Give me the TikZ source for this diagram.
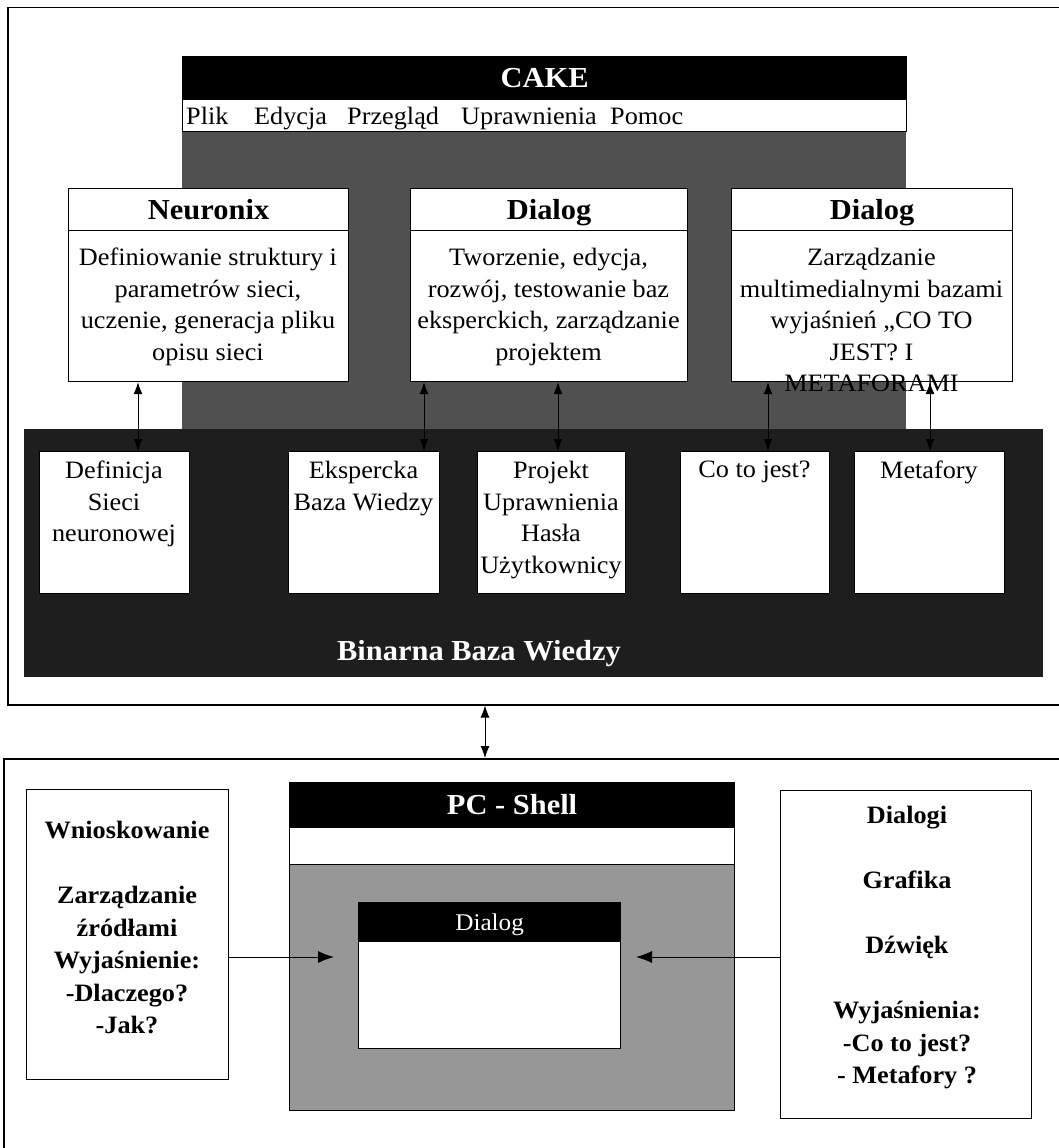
\documentclass[tikz,border=0pt]{standalone}
\usepackage{fontspec}
\setmainfont{Liberation Serif}[FakeStretch=1.05]
\usetikzlibrary{arrows.meta}
\definecolor{cakegrey}{HTML}{505050}
\definecolor{bandgrey}{HTML}{1E1E1E}
\definecolor{shellgrey}{HTML}{979797}
\begin{document}
\begin{tikzpicture}[x=1pt, y=-1pt]
    \tikzstyle{frame} = [draw, line width=1.5pt, inner sep=0pt, anchor=north west]
    \tikzstyle{box} = [draw, line width=1.2pt, fill=white, inner sep=0pt, anchor=north west]
    \tikzstyle{big} = [font=\bfseries\fontsize{29}{33}\selectfont, text height=22pt, text depth=3pt]
    \tikzstyle{bar} = [draw, line width=1.2pt, fill=black, text=white, inner sep=0pt, anchor=north west]
    \tikzstyle{title} = [box, big]
    \tikzstyle{txt} = [inner sep=0pt, align=center, anchor=north, font=\fontsize{25}{31.5}\selectfont]
    \tikzstyle{boldtxt} = [inner sep=0pt, align=center, anchor=north, font=\bfseries\fontsize{25}{32.5}\selectfont]
    \tikzstyle{link} = [line width=0.9pt, {Latex[length=12pt,width=9pt]}-{Latex[length=12pt,width=9pt]}]
    \tikzstyle{feed} = [line width=1pt, -{Latex[length=16pt,width=12pt]}]
    \useasboundingbox (0,0) rectangle (1059,1148);
    \fill[white] (0,0) rectangle (1059,1148);
    % CAKE
    \node[frame, minimum width=1063pt, minimum height=697pt] (upper) at (7,7) {};
    \node[fill=cakegrey, inner sep=0pt, anchor=north west, minimum width=724pt, minimum height=300pt] (cakebody) at (182,131) {};
    \node[bar, big, minimum width=724pt, minimum height=43pt] (cake) at (182,56) {CAKE};
    \node[box, minimum width=724pt, minimum height=32pt] (menu) at (182,99) {};
    \node[inner sep=0pt, anchor=base west, font=\fontsize{25}{28}\selectfont] (menutxt) at (186,124)
        {\makebox[68pt][l]{Plik}\makebox[93pt][l]{Edycja}\makebox[114pt][l]{Przegląd}\makebox[149pt][l]{Uprawnienia}Pomoc};
    \node[fill=bandgrey, inner sep=0pt, anchor=north west, minimum width=1019pt, minimum height=248pt] (binarna) at (24,429) {};
    \node[inner sep=0pt, anchor=base, text=white, font=\bfseries\fontsize{29}{33}\selectfont] (bbw) at (479,660) {Binarna Baza Wiedzy};
    % modules
    \node[title, minimum width=280pt, minimum height=42pt] (neuronix) at (68,188) {Neuronix};
    \node[box, minimum width=280pt, minimum height=151pt] (neuronixbody) at (68,230) {};
    \node[txt] at (208,248) {Definiowanie struktury i\\parametrów sieci,\\uczenie, generacja pliku\\opisu sieci};
    \node[title, minimum width=277pt, minimum height=42pt] (dialog) at (410,188) {Dialog};
    \node[box, minimum width=277pt, minimum height=151pt] (dialogbody) at (410,230) {};
    \node[txt] at (548.5,248) {Tworzenie, edycja,\\rozwój, testowanie baz\\eksperckich, zarządzanie\\projektem};
    \node[title, minimum width=281pt, minimum height=42pt] (media) at (731,188) {Dialog};
    \node[box, minimum width=281pt, minimum height=151pt] (mediabody) at (731,230) {};
    \node[txt] at (871.5,248) {Zarządzanie\\multimedialnymi bazami\\wyjaśnień „CO TO\\JEST? I\\METAFORAMI};
    % knowledge parts
    \node[box, minimum width=150pt, minimum height=142pt] (definicja) at (39,451) {};
    \node[txt] at (114,461) {Definicja\\Sieci\\neuronowej};
    \node[box, minimum width=151pt, minimum height=142pt] (ekspercka) at (288,451) {};
    \node[txt] at (363.5,461) {Ekspercka\\Baza Wiedzy};
    \node[box, minimum width=148pt, minimum height=142pt] (projekt) at (477,451) {};
    \node[txt] at (551,461) {Projekt\\Uprawnienia\\Hasła\\Użytkownicy};
    \node[box, minimum width=149pt, minimum height=142pt] (cotojest) at (680,451) {};
    \node[txt] at (754.5,461) {Co to jest?};
    \node[box, minimum width=150pt, minimum height=142pt] (metafory) at (854,451) {};
    \node[txt] at (929,461) {Metafory};
    \coordinate (l1) at (138,0);
    \coordinate (l2) at (424,0);
    \coordinate (l3) at (558,0);
    \coordinate (l4) at (768,0);
    \coordinate (l5) at (930,0);
    \draw[link] (neuronixbody.south -| l1) -- (definicja.north -| l1);
    \draw[link] (dialogbody.south -| l2) -- (ekspercka.north -| l2);
    \draw[link] (dialogbody.south -| l3) -- (projekt.north -| l3);
    \draw[link] (mediabody.south -| l4) -- (cotojest.north -| l4);
    \draw[link] (mediabody.south -| l5) -- (metafory.north -| l5);
    % PC - Shell
    \node[frame, minimum width=1070pt, minimum height=400pt] (lower) at (3,758) {};
    \coordinate (mid) at (485,0);
    \draw[link] (upper.south -| mid) -- (lower.north -| mid);
    \node[fill=shellgrey, draw, line width=1.2pt, inner sep=0pt, anchor=north west, minimum width=445pt, minimum height=246pt] (shellbody) at (289,864) {};
    \node[bar, big, minimum width=445pt, minimum height=45pt] (shell) at (289,782) {PC - Shell};
    \node[box, minimum width=445pt, minimum height=37pt] (shellmenu) at (289,827) {};
    \node[bar, minimum width=262pt, minimum height=39pt, font=\fontsize{24}{28}\selectfont, text height=19pt, text depth=3pt] (win) at (358,902) {Dialog};
    \node[box, minimum width=262pt, minimum height=107pt] (winbody) at (358,941) {};
    \node[box, minimum width=202pt, minimum height=290pt] (engine) at (26,789) {};
    \node[boldtxt] at (127,821) {Wnioskowanie\\[32.5pt]Zarządzanie\\źródłami\\Wyjaśnienie:\\-Dlaczego?\\-Jak?};
    \node[box, minimum width=251pt, minimum height=328pt] (gui) at (780,790) {};
    \node[boldtxt] at (907,806) {Dialogi\\[32.5pt]Grafika\\[32.5pt]Dźwięk\\[32.5pt]Wyjaśnienia:\\-Co to jest?\\- Metafory ?};
    \coordinate (in1) at (334,957);
    \coordinate (in2) at (636,957);
    \draw[feed] (engine.east |- in1) -- (in1);
    \draw[feed] (gui.west |- in2) -- (in2);
\end{tikzpicture}
\end{document}
